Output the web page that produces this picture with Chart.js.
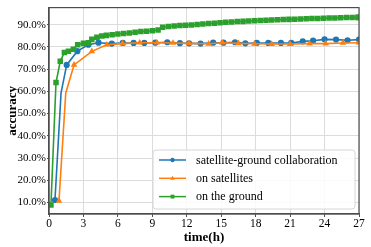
<!DOCTYPE html>
<html><head><meta charset="utf-8">
<script src="https://cdn.jsdelivr.net/npm/chart.js@4"></script>
<style>html,body{margin:0;padding:0;background:#fff}#wrap{width:371px;height:247px}</style>
</head><body><div id="wrap"><canvas id="c"></canvas></div>
<script>
const seriesLabels = ['satellite-ground collaboration', 'on satellites', 'on the ground'];
const xTicks = [0, 3, 6, 9, 12, 15, 18, 21, 24, 27];
const yTicks = [10, 20, 30, 40, 50, 60, 70, 80, 90];

const collabTime = [0.52, 1.05, 1.54, 2.47, 3.43, 4.31, 5.47, 6.43, 7.37, 8.3, 9.26, 10.3, 11.4, 12.2, 13.2, 14.3, 15.2, 16.2, 17.1, 18.1, 19.1, 20.2, 21.1, 22.1, 23.0, 24.0, 25.0, 26.0, 27.0];
const collabAcc  = [11.1, 59.3, 71.9, 78.1, 81.0, 81.9, 81.5, 81.8, 81.8, 81.8, 81.9, 82.1, 81.7, 81.6, 81.5, 81.9, 81.9, 82.1, 81.6, 81.8, 81.8, 81.8, 81.8, 82.5, 82.8, 83.4, 83.3, 83.0, 83.3];

const satTime = [0.87, 1.46, 2.18, 3.73, 5.04, 6.4, 7.9, 9.4, 10.8, 12.2, 13.9, 15.1, 16.5, 17.9, 19.4, 21.0, 22.7, 24.1, 25.6, 27.0];
const satAcc  = [10.7, 59.3, 71.9, 78.0, 81.0, 81.5, 81.9, 81.9, 81.8, 81.6, 81.4, 81.9, 81.6, 81.4, 81.3, 81.3, 81.5, 81.5, 81.8, 81.9];

const groundTime = [0.17, 0.61, 0.98, 1.34, 1.69, 2.12, 2.5, 3.0, 3.45, 3.73, 4.17, 4.6, 5.0, 5.5, 6.0, 6.5, 7.0, 7.5, 8.0, 8.5, 9.0, 9.5, 9.9, 10.4, 10.9, 11.4, 11.9, 12.4, 12.9, 13.4, 13.9, 14.4, 14.9, 15.4, 15.9, 16.4, 16.9, 17.4, 17.9, 18.4, 18.9, 19.4, 19.9, 20.4, 20.9, 21.4, 21.9, 22.4, 22.9, 23.4, 23.9, 24.4, 24.9, 25.4, 25.9, 26.4, 26.9, 27.0];
const groundAcc  = [8.9, 64.0, 73.5, 77.5, 78.1, 79.0, 81.0, 81.6, 81.9, 83.4, 84.4, 84.9, 85.2, 85.5, 85.8, 86.0, 86.3, 86.6, 86.9, 87.1, 87.3, 87.6, 88.9, 89.2, 89.4, 89.6, 89.8, 89.9, 90.1, 90.3, 90.5, 90.7, 90.9, 91.1, 91.2, 91.4, 91.5, 91.7, 91.8, 91.9, 92.0, 92.1, 92.2, 92.3, 92.4, 92.5, 92.6, 92.7, 92.8, 92.8, 92.9, 93.0, 93.0, 93.1, 93.2, 93.2, 93.3, 93.3];

const hiddenMarker = [[1], [1], []];
const colors = ['#1f77b4', '#ff7f0e', '#2ca02c'];
const shapes = ['circle', 'triangle', 'rect'];
const radii = [3.1, 3.8, 3.9];
const FONT = '"Liberation Serif", "Times New Roman", serif';

function pts(t, v) { return t.map((x, i) => ({x: x, y: v[i]})); }
const series = [pts(collabTime, collabAcc), pts(satTime, satAcc), pts(groundTime, groundAcc)];

const datasets = series.map((d, k) => ({
  label: seriesLabels[k], data: d,
  borderColor: colors[k], backgroundColor: colors[k],
  borderWidth: 1.6, pointStyle: shapes[k],
  pointRadius: ctx => hiddenMarker[k].includes(ctx.dataIndex) ? 0 : radii[k],
  pointBorderWidth: 0, pointHoverRadius: 0, tension: 0,
  order: 3 - k
}));

const framePlugin = {
  id: 'frame',
  afterDatasetsDraw(chart) {
    const a = chart.chartArea, c = chart.ctx;
    c.save(); c.strokeStyle = '#4d4d4d'; c.lineWidth = 1.2;
    c.strokeRect(a.left, a.top, a.right - a.left, a.bottom - a.top);
    c.restore();
  }
};
const legendPlugin = {
  id: 'boxLegend',
  afterDraw(chart) {
    const c = chart.ctx, a = chart.chartArea;
    const x0 = 153, y0 = 150, w = a.right - 4 - x0, h = 59, r = 3;
    c.save();
    c.beginPath();
    c.moveTo(x0 + r, y0); c.lineTo(x0 + w - r, y0); c.quadraticCurveTo(x0 + w, y0, x0 + w, y0 + r);
    c.lineTo(x0 + w, y0 + h - r); c.quadraticCurveTo(x0 + w, y0 + h, x0 + w - r, y0 + h);
    c.lineTo(x0 + r, y0 + h); c.quadraticCurveTo(x0, y0 + h, x0, y0 + h - r);
    c.lineTo(x0, y0 + r); c.quadraticCurveTo(x0, y0, x0 + r, y0); c.closePath();
    c.fillStyle = 'rgba(255,255,255,0.85)'; c.fill();
    c.strokeStyle = '#d6d6d6'; c.lineWidth = 1; c.stroke();
    chart.data.datasets.forEach((ds, k) => {
      const yy = y0 + 10 + k * 18.3;
      c.strokeStyle = ds.borderColor; c.lineWidth = 1.5;
      c.beginPath(); c.moveTo(159, yy); c.lineTo(186, yy); c.stroke();
      c.fillStyle = ds.borderColor;
      Chart.helpers.drawPoint(c, {pointStyle: shapes[k], radius: radii[k] * 0.7, borderWidth: 0, rotation: 0}, 172.5, yy);
      c.fillStyle = '#000'; c.font = '12px ' + FONT; c.textBaseline = 'middle';
      c.fillText(ds.label, 196, yy + 0.5);
    });
    c.restore();
  }
};

new Chart(document.getElementById('c'), {
  type: 'line',
  data: {datasets: datasets},
  options: {
    responsive: true, maintainAspectRatio: false, animation: false,
    layout: {padding: {left: 5, right: 12, top: 6, bottom: 0}},
    plugins: {legend: {display: false}, tooltip: {enabled: false}},
    scales: {
      x: {
        type: 'linear', min: 0, max: 27,
        afterBuildTicks: s => { s.ticks = xTicks.map(v => ({value: v})); },
        afterFit: s => { s.height = 33; },
        ticks: {color: '#000', font: {family: FONT, size: 11.5}, padding: 0, maxRotation: 0, autoSkip: false},
        grid: {color: '#dcdcdc', lineWidth: 1, tickLength: 3, tickColor: '#4d4d4d'},
        border: {display: true, color: '#4d4d4d', width: 1.2},
        title: {display: true, text: 'time(h)', color: '#000', font: {family: FONT, size: 13, weight: 'bold'}, padding: {top: 0, bottom: 2}}
      },
      y: {
        type: 'linear', min: 4.8, max: 97.7,
        afterBuildTicks: s => { s.ticks = yTicks.map(v => ({value: v})); },
        afterFit: s => { s.width = 44; },
        ticks: {color: '#000', font: {family: FONT, size: 11}, padding: 1, callback: v => v.toFixed(1) + '%'},
        grid: {color: '#dcdcdc', lineWidth: 1, tickLength: 2, tickColor: '#4d4d4d'},
        border: {display: true, color: '#4d4d4d', width: 1.2},
        title: {display: true, text: 'accuracy', color: '#000', font: {family: FONT, size: 13, weight: 'bold'}, padding: {top: 0, bottom: 0}}
      }
    }
  },
  plugins: [framePlugin, legendPlugin]
});
</script>
</body></html>
